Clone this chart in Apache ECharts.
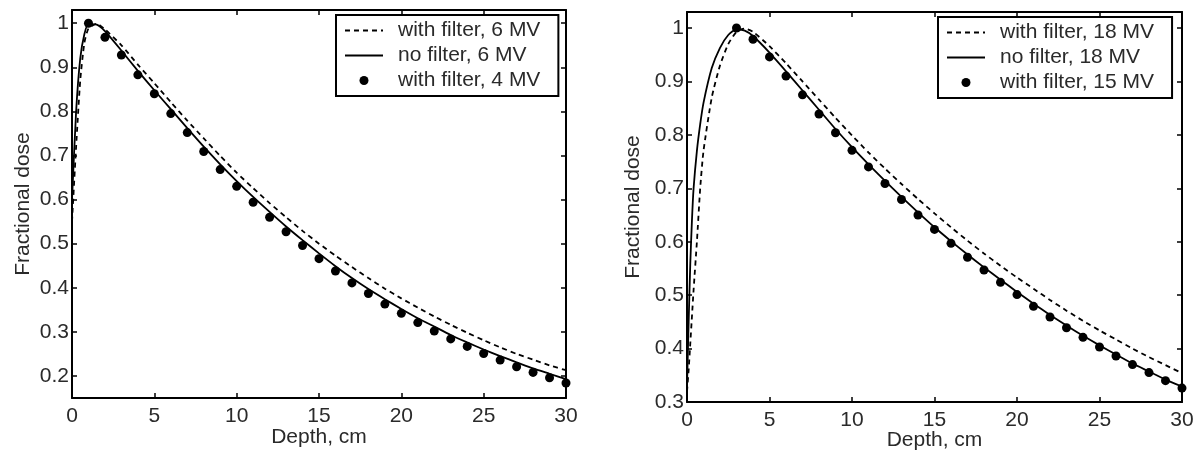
<!DOCTYPE html>
<html>
<head>
<meta charset="utf-8">
<script src="https://cdn.jsdelivr.net/npm/echarts@6.0.0/dist/echarts.min.js"></script>
<style>
html, body { margin: 0; padding: 0; background: #fff; }
#main { width: 1200px; height: 450px; }
</style>
</head>
<body>
<div id="main"></div>
<script>
// left panel: 6 MV beams (+ 4 MV points)
const depth6 = [0, 0.25, 0.5, 0.75, 1, 1.5, 2, 3, 4, 5, 6, 7, 8, 9, 10, 11, 12, 13, 14, 15, 16, 17, 18, 19, 20, 21, 22, 23, 24, 25, 26, 27, 28, 29, 30];
const filter6 = [0.55, 0.72, 0.87, 0.955, 0.988, 0.999, 0.986, 0.950, 0.906, 0.864, 0.821, 0.779, 0.739, 0.699, 0.661, 0.626, 0.592, 0.560, 0.529, 0.500, 0.473, 0.447, 0.422, 0.398, 0.376, 0.355, 0.335, 0.316, 0.298, 0.281, 0.265, 0.250, 0.237, 0.224, 0.213];
const noFilter6 = [0.60, 0.80, 0.92, 0.975, 0.998, 0.997, 0.982, 0.938, 0.892, 0.848, 0.805, 0.762, 0.720, 0.680, 0.642, 0.606, 0.572, 0.539, 0.508, 0.478, 0.449, 0.422, 0.397, 0.374, 0.352, 0.331, 0.312, 0.293, 0.276, 0.260, 0.245, 0.231, 0.217, 0.205, 0.193];
const depth4 = [1, 2, 3, 4, 5, 6, 7, 8, 9, 10, 11, 12, 13, 14, 15, 16, 17, 18, 19, 20, 21, 22, 23, 24, 25, 26, 27, 28, 29, 30];
const filter4 = [1.0, 0.968, 0.928, 0.883, 0.840, 0.795, 0.752, 0.709, 0.668, 0.630, 0.594, 0.560, 0.527, 0.496, 0.466, 0.438, 0.411, 0.387, 0.363, 0.342, 0.321, 0.302, 0.284, 0.267, 0.251, 0.236, 0.221, 0.208, 0.196, 0.184];

// right panel: 18 MV beams (+ 15 MV points)
const depth18 = [0, 0.1, 0.2, 0.3, 0.4, 0.6, 0.8, 1, 1.5, 2, 2.5, 3, 3.5, 4, 5, 6, 7, 8, 9, 10, 11, 12, 13, 14, 15, 16, 17, 18, 19, 20, 21, 22, 23, 24, 25, 26, 27, 28, 29, 30];
const filter18 = [0.32, 0.36, 0.41, 0.46, 0.51, 0.60, 0.70, 0.77, 0.87, 0.93, 0.970, 0.993, 0.999, 0.993, 0.966, 0.934, 0.900, 0.866, 0.832, 0.799, 0.767, 0.737, 0.708, 0.680, 0.653, 0.627, 0.602, 0.578, 0.555, 0.533, 0.512, 0.491, 0.471, 0.452, 0.434, 0.417, 0.400, 0.384, 0.369, 0.354];
const noFilter18 = [0.33, 0.45, 0.56, 0.64, 0.70, 0.77, 0.82, 0.86, 0.925, 0.963, 0.987, 0.998, 0.995, 0.985, 0.954, 0.919, 0.883, 0.847, 0.811, 0.777, 0.745, 0.714, 0.684, 0.655, 0.627, 0.601, 0.576, 0.552, 0.529, 0.506, 0.484, 0.463, 0.443, 0.424, 0.406, 0.389, 0.372, 0.357, 0.342, 0.329];
const depth15 = [3, 4, 5, 6, 7, 8, 9, 10, 11, 12, 13, 14, 15, 16, 17, 18, 19, 20, 21, 22, 23, 24, 25, 26, 27, 28, 29, 30];
const filter15 = [1.0, 0.979, 0.946, 0.910, 0.875, 0.839, 0.804, 0.771, 0.740, 0.709, 0.679, 0.650, 0.623, 0.597, 0.571, 0.547, 0.524, 0.501, 0.479, 0.459, 0.439, 0.421, 0.403, 0.386, 0.370, 0.355, 0.340, 0.326];

const yTicksLeft = [0.2, 0.3, 0.4, 0.5, 0.6, 0.7, 0.8, 0.9, 1];
const yTicksRight = [0.3, 0.4, 0.5, 0.6, 0.7, 0.8, 0.9, 1];

const FONT = '"Liberation Sans", Arial, sans-serif';
const TXT = '#2a2a2a';
const FS = 21;

function pairs(xs, ys) {
    return xs.map(function (x, i) { return [x, ys[i]]; });
}

function xAxes(gridIndex, nameGap) {
    const base = {
        type: 'value', gridIndex: gridIndex, min: 0, max: 30, interval: 5,
        splitLine: { show: false },
        axisLine: { onZero: false, lineStyle: { color: '#000', width: 2 } },
        axisTick: { inside: true, length: 5, lineStyle: { color: '#000', width: 1.5 } }
    };
    return [
        Object.assign({}, base, {
            position: 'bottom',
            name: 'Depth, cm', nameLocation: 'middle', nameGap: nameGap, nameMoveOverlap: false,
            nameTextStyle: { fontFamily: FONT, fontSize: FS, color: TXT },
            axisLabel: { margin: 8, fontFamily: FONT, fontSize: FS, color: TXT }
        }),
        Object.assign({}, base, { position: 'top', axisLabel: { show: false } })
    ];
}

function yAxes(gridIndex, min, ticks, nameGap) {
    const base = {
        type: 'value', gridIndex: gridIndex, min: min, max: 1.03,
        splitLine: { show: false },
        axisLine: { onZero: false, lineStyle: { color: '#000', width: 2 } },
        axisTick: { inside: true, length: 5, customValues: ticks, lineStyle: { color: '#000', width: 1.5 } }
    };
    return [
        Object.assign({}, base, {
            position: 'left',
            name: 'Fractional dose', nameLocation: 'middle', nameGap: nameGap, nameMoveOverlap: false,
            nameTextStyle: { fontFamily: FONT, fontSize: FS, color: TXT },
            axisLabel: { margin: 3, customValues: ticks, fontFamily: FONT, fontSize: FS, color: TXT }
        }),
        Object.assign({}, base, { position: 'right', axisLabel: { show: false } })
    ];
}

// legend entries for line series: hide the marker ECharts puts on the line icon
function lineItem(name) {
    return { name: name, itemStyle: { color: 'rgba(0,0,0,0)', borderWidth: 0 } };
}

function legendFor(left, top, names) {
    return {
        orient: 'vertical', left: left, top: top,
        data: [lineItem(names[0]), lineItem(names[1]), names[2]],
        itemWidth: 38, itemHeight: 9, itemGap: 4,
        padding: [5, 18, 5, 8],
        borderColor: '#000', borderWidth: 2, borderRadius: 0,
        backgroundColor: '#fff',
        selectedMode: false,
        textStyle: { fontFamily: FONT, fontSize: FS, color: TXT, padding: [0, 0, 0, 10] }
    };
}

function dashed(name, data, xi, yi) {
    return { name: name, type: 'line', data: data, xAxisIndex: xi, yAxisIndex: yi, symbol: 'none', smooth: 0.2,
        lineStyle: { color: '#000', width: 1.8, type: [5, 4] }, itemStyle: { color: '#000' } };
}
function solid(name, data, xi, yi) {
    return { name: name, type: 'line', data: data, xAxisIndex: xi, yAxisIndex: yi, symbol: 'none', smooth: 0.2,
        lineStyle: { color: '#000', width: 1.8 }, itemStyle: { color: '#000' } };
}
function dots(name, data, xi, yi) {
    return { name: name, type: 'scatter', data: data, xAxisIndex: xi, yAxisIndex: yi, symbolSize: 9, clip: false,
        itemStyle: { color: '#000', opacity: 1 }, z: 3 };
}

let myChart = echarts.init(document.getElementById('main'));

myChart.setOption({
    animation: false,
    backgroundColor: '#fff',
    grid: [
        { left: 72, top: 10, width: 494, height: 388, outerBoundsMode: 'none' },
        { left: 687, top: 12, width: 495, height: 390, outerBoundsMode: 'none' }
    ],
    xAxis: xAxes(0, 29).concat(xAxes(1, 28)),
    yAxis: yAxes(0, 0.15, yTicksLeft, 38).concat(yAxes(1, 0.3, yTicksRight, 43)),
    legend: [
        legendFor(336, 15, ['with filter, 6 MV', 'no filter, 6 MV', 'with filter, 4 MV']),
        legendFor(938, 17, ['with filter, 18 MV', 'no filter, 18 MV', 'with filter, 15 MV'])
    ],
    series: [
        dashed('with filter, 6 MV', pairs(depth6, filter6), 0, 0),
        solid('no filter, 6 MV', pairs(depth6, noFilter6), 0, 0),
        dots('with filter, 4 MV', pairs(depth4, filter4), 0, 0),
        dashed('with filter, 18 MV', pairs(depth18, filter18), 2, 2),
        solid('no filter, 18 MV', pairs(depth18, noFilter18), 2, 2),
        dots('with filter, 15 MV', pairs(depth15, filter15), 2, 2)
    ]
});

window.addEventListener('resize', function () {
    myChart.resize();
});
</script>
</body>
</html>
